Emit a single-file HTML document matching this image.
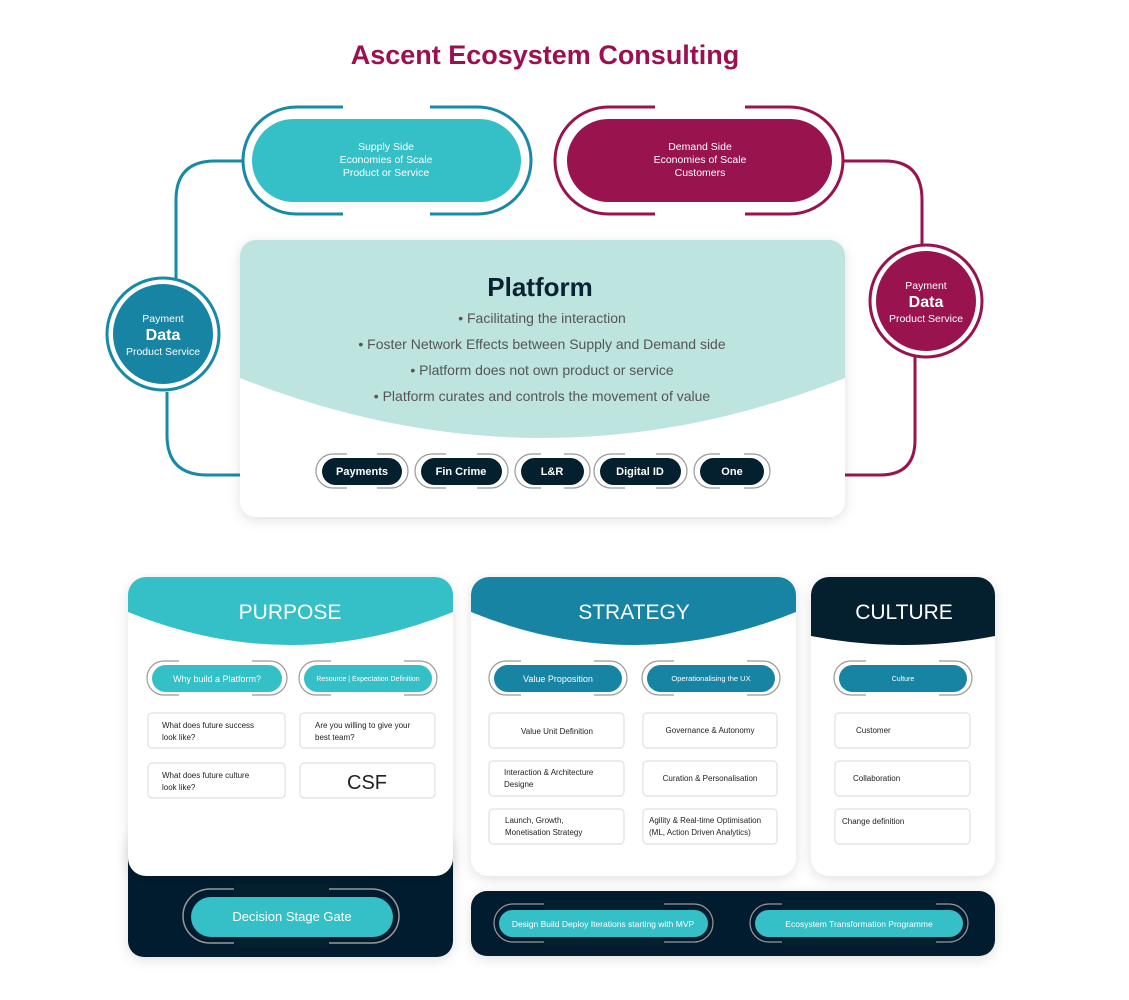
<!DOCTYPE html>
<html><head><meta charset="utf-8"><style>
html,body{margin:0;padding:0;background:#fff;}
svg{display:block;font-family:"Liberation Sans",sans-serif;}
</style></head><body>
<svg width="1129" height="1000" viewBox="0 0 1129 1000" xmlns="http://www.w3.org/2000/svg">
<defs>
<filter id="sh" x="-10%" y="-10%" width="120%" height="130%"><feDropShadow dx="0" dy="3" stdDeviation="6" flood-color="#000" flood-opacity="0.12"/></filter>
<clipPath id="cp"><rect x="240" y="240" width="605" height="277" rx="16"/></clipPath>
<clipPath id="cpu"><rect x="128" y="577" width="325" height="299" rx="18"/></clipPath>
<clipPath id="cst"><rect x="471" y="577" width="325" height="299" rx="18"/></clipPath>
<clipPath id="ccu"><rect x="811" y="577" width="184" height="299" rx="18"/></clipPath>
</defs>
<rect width="1129" height="1000" fill="#fff"/>
<text x="545" y="64" text-anchor="middle" font-size="27" font-weight="bold" fill="#9b1050">Ascent Ecosystem Consulting</text>

<g fill="none" stroke-width="3">
<path d="M243,161 H215 Q176,161 176,200 V279" stroke="#178aa6"/>
<path d="M167,392 V435 Q167,475 207,475 H240" stroke="#178aa6"/>
<path d="M843,161 H885 Q922,161 922,200 V245" stroke="#99134f"/>
<path d="M915,357 V440 Q915,475 880,475 H845" stroke="#99134f"/>
</g>

<rect x="243" y="107" width="288" height="107" rx="53.5" fill="none" stroke="#178aa6" stroke-width="3"/>
<rect x="343" y="100" width="87" height="120" fill="#fff"/>
<rect x="252" y="119" width="269" height="83" rx="41.5" fill="#35bfc7"/>
<g fill="#fff" font-size="10.5" text-anchor="middle"><text x="386" y="150">Supply Side</text><text x="386" y="163">Economies of Scale</text><text x="386" y="176">Product or Service</text></g>
<rect x="555" y="107" width="288" height="107" rx="53.5" fill="none" stroke="#99134f" stroke-width="3"/>
<rect x="655" y="100" width="90" height="120" fill="#fff"/>
<rect x="567" y="119" width="265" height="83" rx="41.5" fill="#99134f"/>
<g fill="#fff" font-size="10.5" text-anchor="middle"><text x="700" y="150">Demand Side</text><text x="700" y="163">Economies of Scale</text><text x="700" y="176">Customers</text></g>

<circle cx="163" cy="334" r="56" fill="none" stroke="#178aa6" stroke-width="3"/>
<circle cx="163" cy="334" r="50" fill="#1784a4"/>
<g fill="#fff" text-anchor="middle"><text x="163" y="322" font-size="10.5">Payment</text><text x="163" y="340" font-size="16" font-weight="bold">Data</text><text x="163" y="355" font-size="10.5">Product Service</text></g>
<circle cx="926" cy="301" r="56" fill="none" stroke="#99134f" stroke-width="3"/>
<circle cx="926" cy="301" r="50" fill="#99134f"/>
<g fill="#fff" text-anchor="middle"><text x="926" y="289" font-size="10.5">Payment</text><text x="926" y="307" font-size="16" font-weight="bold">Data</text><text x="926" y="322" font-size="10.5">Product Service</text></g>

<rect x="240" y="240" width="605" height="277" rx="16" fill="#fff" filter="url(#sh)"/>
<g clip-path="url(#cp)"><path d="M240,240 H845 V378 Q542,498 240,378 Z" fill="#bde4de"/></g>
<text x="540" y="296" text-anchor="middle" font-size="26" font-weight="bold" fill="#0b2233">Platform</text>
<g font-size="14" fill="#555" text-anchor="middle">
<text x="542" y="323">• Facilitating the interaction</text>
<text x="542" y="349">• Foster Network Effects between Supply and Demand side</text>
<text x="542" y="375">• Platform does not own product or service</text>
<text x="542" y="401">• Platform curates and controls the movement of value</text>
</g>
<g fill="none" stroke="#999" stroke-width="1.2">
<rect x="316" y="454" width="92" height="34" rx="17"/><rect x="415" y="454" width="93" height="34" rx="17"/><rect x="515" y="454" width="75" height="34" rx="17"/><rect x="594" y="454" width="93" height="34" rx="17"/><rect x="694" y="454" width="76" height="34" rx="17"/>
</g>
<g fill="#fff"><rect x="347" y="450" width="30" height="42"/><rect x="446" y="450" width="31" height="42"/><rect x="541" y="450" width="23" height="42"/><rect x="625" y="450" width="31" height="42"/><rect x="720" y="450" width="24" height="42"/></g>
<g fill="#04202f"><rect x="322" y="458" width="80" height="27" rx="13.5"/><rect x="421" y="458" width="81" height="27" rx="13.5"/><rect x="521" y="458" width="63" height="27" rx="13.5"/><rect x="600" y="458" width="81" height="27" rx="13.5"/><rect x="700" y="458" width="64" height="27" rx="13.5"/></g>
<g fill="#fff" font-size="11" font-weight="bold" text-anchor="middle"><text x="362" y="475">Payments</text><text x="461" y="475">Fin Crime</text><text x="552" y="475">L&amp;R</text><text x="640" y="475">Digital ID</text><text x="732" y="475">One</text></g>

<rect x="128" y="830" width="325" height="127" rx="16" fill="#041f2e" filter="url(#sh)"/>
<rect x="471" y="891" width="524" height="65" rx="16" fill="#041f2e" filter="url(#sh)"/>

<rect x="128" y="577" width="325" height="299" rx="18" fill="#fff" filter="url(#sh)"/>
<rect x="471" y="577" width="325" height="299" rx="18" fill="#fff" filter="url(#sh)"/>
<rect x="811" y="577" width="184" height="299" rx="18" fill="#fff" filter="url(#sh)"/>
<g clip-path="url(#cpu)"><path d="M128,577 H453 V612 Q290,678 128,612 Z" fill="#35bfc7"/></g>
<g clip-path="url(#cst)"><path d="M471,577 H796 V612 Q633,678 471,612 Z" fill="#1784a4"/></g>
<g clip-path="url(#ccu)"><path d="M811,577 H995 V636 Q903,654 811,636 Z" fill="#041f2e"/></g>
<g fill="#fff" font-size="21" text-anchor="middle"><text x="290" y="619">PURPOSE</text><text x="634" y="619">STRATEGY</text><text x="904" y="619">CULTURE</text></g>

<g fill="none" stroke="#999" stroke-width="1.2">
<rect x="147" y="661" width="140" height="34" rx="17"/><rect x="299" y="661" width="138" height="34" rx="17"/>
<rect x="489" y="661" width="138" height="34" rx="17"/><rect x="642" y="661" width="138" height="34" rx="17"/>
<rect x="834" y="661" width="138" height="34" rx="17"/>
<rect x="183" y="889" width="216" height="54" rx="27" stroke-width="1.5"/>
<rect x="494" y="904" width="219" height="38" rx="19"/><rect x="750" y="904" width="218" height="38" rx="19"/>
</g>
<g fill="#fff"><rect x="179" y="656" width="73" height="44"/><rect x="331" y="656" width="73" height="44"/><rect x="521" y="656" width="73" height="44"/><rect x="674" y="656" width="73" height="44"/><rect x="866" y="656" width="73" height="44"/></g>
<g fill="#041f2e"><rect x="234" y="884" width="95" height="64"/><rect x="544" y="900" width="120" height="46"/><rect x="782" y="900" width="154" height="46"/></g>
<rect x="152" y="665" width="130" height="27" rx="13.5" fill="#35bfc7"/>
<rect x="304" y="665" width="128" height="27" rx="13.5" fill="#35bfc7"/>
<rect x="494" y="665" width="128" height="27" rx="13.5" fill="#1784a4"/>
<rect x="647" y="665" width="128" height="27" rx="13.5" fill="#1784a4"/>
<rect x="839" y="665" width="128" height="27" rx="13.5" fill="#1784a4"/>
<rect x="191" y="897" width="202" height="40" rx="20" fill="#35bfc7"/>
<rect x="499" y="910" width="209" height="27" rx="13.5" fill="#35bfc7"/>
<rect x="755" y="910" width="208" height="27" rx="13.5" fill="#35bfc7"/>
<g fill="#fff" text-anchor="middle">
<text x="217" y="682" font-size="9">Why build a Platform?</text>
<text x="368" y="681" font-size="7">Resource | Expectation Definition</text>
<text x="558" y="682" font-size="9">Value Proposition</text>
<text x="711" y="681" font-size="7.5">Operationalising the UX</text>
<text x="903" y="681" font-size="7">Culture</text>
<text x="292" y="921" font-size="13">Decision Stage Gate</text>
<text x="603" y="927" font-size="8.5">Design Build Deploy Iterations starting with MVP</text>
<text x="859" y="927" font-size="8.5">Ecosystem Transformation Programme</text>
</g>

<g fill="#fff" stroke="#dde2e4" stroke-width="1.2">
<rect x="148" y="713" width="137" height="35" rx="4"/><rect x="300" y="713" width="135" height="35" rx="4"/>
<rect x="148" y="763" width="137" height="35" rx="4"/><rect x="300" y="763" width="135" height="35" rx="4"/>
<rect x="489" y="713" width="135" height="35" rx="4"/><rect x="643" y="713" width="134" height="35" rx="4"/>
<rect x="489" y="761" width="135" height="35" rx="4"/><rect x="643" y="761" width="134" height="35" rx="4"/>
<rect x="489" y="809" width="135" height="35" rx="4"/><rect x="643" y="809" width="134" height="35" rx="4"/>
<rect x="835" y="713" width="135" height="35" rx="4"/><rect x="835" y="761" width="135" height="35" rx="4"/><rect x="835" y="809" width="135" height="35" rx="4"/>
</g>
<g fill="#222" font-size="8">
<text x="162" y="728">What does future success</text><text x="162" y="740">look like?</text>
<text x="315" y="728">Are you willing to give your</text><text x="315" y="740">best team?</text>
<text x="162" y="778">What does future culture</text><text x="162" y="790">look like?</text>
<text x="367" y="789" font-size="20" text-anchor="middle">CSF</text>
<text x="557" y="734" text-anchor="middle">Value Unit Definition</text>
<text x="504" y="775">Interaction &amp; Architecture</text><text x="504" y="787">Designe</text>
<text x="505" y="823">Launch, Growth,</text><text x="505" y="835">Monetisation Strategy</text>
<text x="710" y="733" text-anchor="middle">Governance &amp; Autonomy</text>
<text x="710" y="781" text-anchor="middle">Curation &amp; Personalisation</text>
<text x="649" y="823">Agility &amp; Real-time Optimisation</text><text x="649" y="835">(ML, Action Driven Analytics)</text>
<text x="856" y="733">Customer</text>
<text x="853" y="781">Collaboration</text>
<text x="842" y="824">Change definition</text>
</g>
</svg>
</body></html>
